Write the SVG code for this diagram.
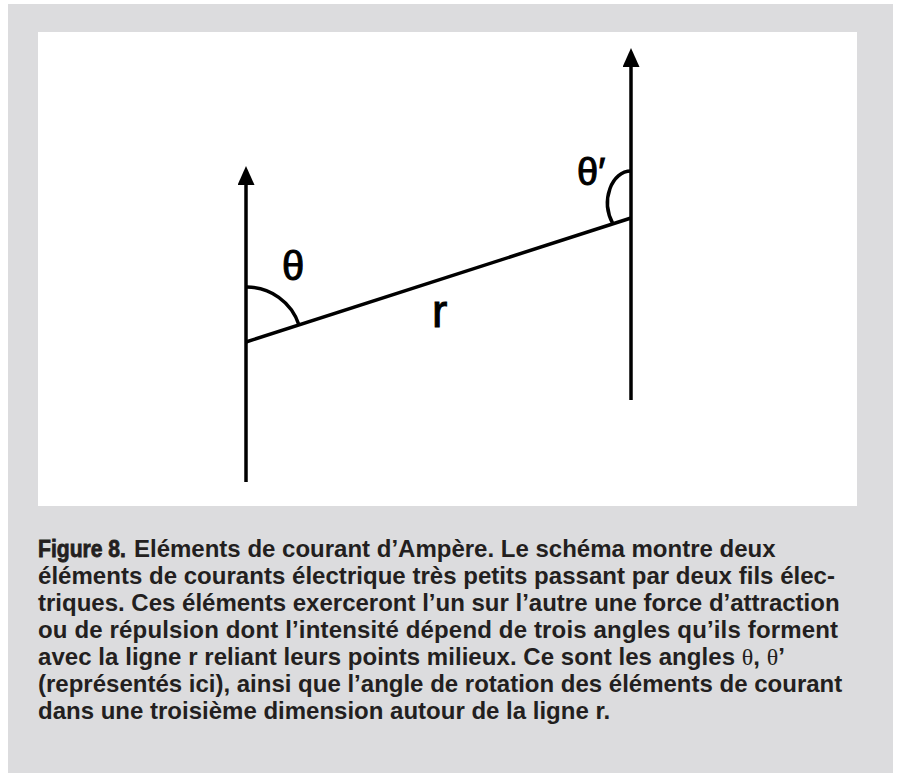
<svg xmlns="http://www.w3.org/2000/svg" width="898" height="773" viewBox="0 0 898 773">
<style>
.wire{stroke:#000;stroke-width:3.5;fill:none;stroke-linecap:butt}
.arc{stroke:#000;stroke-width:3.5;fill:none}
.lbl{font-family:"Liberation Sans","DejaVu Sans",sans-serif;fill:#000;stroke:#000;stroke-width:1}
.cap{font-family:"Liberation Sans",Arial,sans-serif;font-weight:bold;font-size:24px;fill:#231f20}
.fig{font-family:"Liberation Sans",Arial,sans-serif;font-weight:bold;font-size:24px;fill:#231f20;stroke:#231f20;stroke-width:0.8}
.gr{font-family:"Liberation Serif","DejaVu Serif",serif;font-weight:normal}
</style>
<defs>
<marker id="arrow" markerUnits="userSpaceOnUse" viewBox="0 0 19 17" markerWidth="19" markerHeight="17" refX="9" refY="8.5" orient="auto">
<path d="M0,0 L19,8.5 L0,17 z" fill="#000"/>
</marker>
</defs>
<rect x="8" y="4" width="885" height="769" fill="#dcdcde"/>
<rect x="38" y="32" width="819" height="474" fill="#fff"/>
<g id="wire-left">
<line class="wire" x1="246" y1="482" x2="246" y2="176" marker-end="url(#arrow)"/>
<path class="arc" d="M246,287 A55,55 0 0 1 299,325"/>
<text class="lbl" x="293" y="280" font-size="40" text-anchor="middle">θ</text>
</g>
<g id="wire-right">
<line class="wire" x1="631" y1="400" x2="631" y2="58" marker-end="url(#arrow)"/>
<path class="arc" d="M631,171 C612,171 600,200 613,224"/>
<text class="lbl" x="577" y="185" font-size="38">θ′</text>
</g>
<g id="connectors">
<line class="wire" x1="246" y1="342" x2="631" y2="218"/>
<text class="lbl" x="432" y="327" font-size="46">r</text>
</g>
<g id="caption">
<text class="fig" transform="translate(38,557) scale(0.88,1)">Figure 8.</text>
<text class="cap" x="134" y="557">Eléments de courant d’Ampère. Le schéma montre deux</text>
<text class="cap" x="38" y="584" textLength="797">éléments de courants électrique très petits passant par deux fils élec-</text>
<text class="cap" x="38" y="611">triques. Ces éléments exerceront l’un sur l’autre une force d’attraction</text>
<text class="cap" x="38" y="638" textLength="800">ou de répulsion dont l’intensité dépend de trois angles qu’ils forment</text>
<text class="cap" x="38" y="665" textLength="747">avec la ligne r reliant leurs points milieux. Ce sont les angles <tspan class="gr">θ</tspan>, <tspan class="gr">θ</tspan>’</text>
<text class="cap" x="38" y="692">(représentés ici), ainsi que l’angle de rotation des éléments de courant</text>
<text class="cap" x="38" y="719">dans une troisième dimension autour de la ligne r.</text>
</g>
</svg>
